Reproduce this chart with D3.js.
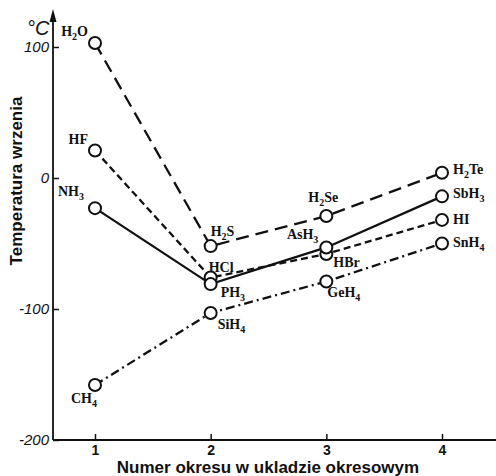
<!DOCTYPE html>
<meta charset="utf-8">
<style>
body { margin: 0; background: #fff; }
.axis text { font-family: "Liberation Sans", Arial, sans-serif; fill: #111; }
.axis line { stroke: #111; stroke-width: 1.5; }
.formula { font-family: "Liberation Serif", "Times New Roman", serif; font-weight: bold; font-size: 14px; fill: #111; }
.title { font-family: "Liberation Sans", Arial, sans-serif; font-weight: bold; font-size: 17px; fill: #111; }
</style>
<body>
<script src="https://d3js.org/d3.v7.min.js"></script>
<script>
// period numbers and tick values
var periods = [1, 2, 3, 4];
var xTicks = [1, 2, 3, 4];
var yTicks = [100, 0, -100, -200];

// boiling points (deg C)
var hydridesVI = ["H2O", "H2S", "H2Se", "H2Te"];
var boilingVI = [103, -52, -29, 4];
var hydridesVII = ["HF", "HCl", "HBr", "HI"];
var boilingVII = [21, -76, -58, -32];
var hydridesV = ["NH3", "PH3", "AsH3", "SbH3"];
var boilingV = [-23, -81, -53, -14];
var hydridesIV = ["CH4", "SiH4", "GeH4", "SnH4"];
var boilingIV = [-158, -103, -79, -50];

var width = 496, height = 476;

// label placement next to each point: [dx, dy, anchor]
var labelPos = {
  H2O: [-7, -7, "end"], HF: [-7, -6, "end"], NH3: [-11, -12, "end"], CH4: [2, 18, "end"],
  H2S: [0, -10, "start"], HCl: [-2, -6, "start"], PH3: [10, 13, "start"], SiH4: [7, 16, "start"],
  H2Se: [-18, -14, "start"], AsH3: [-8, -8, "end"], HBr: [7, 13, "start"], GeH4: [1, 16, "start"],
  H2Te: [11, 1, "start"], SbH3: [11, 2, "start"], HI: [11, 4, "start"], SnH4: [11, 3, "start"]
};

var series = [
  {names: hydridesVI, values: boilingVI, dash: "13,7"},
  {names: hydridesVII, values: boilingVII, dash: "7,4"},
  {names: hydridesV, values: boilingV, dash: null},
  {names: hydridesIV, values: boilingIV, dash: "9,4,2,4"}
];

var x = d3.scaleLinear().domain([1, 4]).range([95, 442]);
var y = d3.scaleLinear().domain([-200, 100]).range([440, 47]);
var x0 = 53;

var svg = d3.select("body").append("svg")
    .attr("width", width)
    .attr("height", height);

// y axis, ticks pointing inward
svg.append("g")
    .attr("class", "axis")
    .attr("transform", "translate(" + x0 + ",0)")
    .call(d3.axisLeft(y).tickValues(yTicks).tickSizeInner(-6).tickSizeOuter(0)
          .tickPadding(4).tickFormat(function(d) { return String(d); }))
  .call(function(g) { g.select(".domain").remove(); })
  .selectAll("text")
    .attr("font-size", 15)
    .attr("font-style", "italic");

// x axis
svg.append("g")
    .attr("class", "axis")
    .attr("transform", "translate(0," + y(-200) + ")")
    .call(d3.axisBottom(x).tickValues(xTicks).tickSizeInner(-6).tickSizeOuter(0)
          .tickPadding(5).tickFormat(d3.format("d")))
  .call(function(g) { g.select(".domain").remove(); })
  .selectAll("text")
    .attr("font-size", 14)
    .attr("font-weight", "bold");

svg.append("line")
    .attr("x1", x0).attr("x2", x0)
    .attr("y1", y(-200)).attr("y2", 18)
    .attr("stroke", "#111").attr("stroke-width", 1.8);
svg.append("path")
    .attr("d", "M" + (x0 - 3.5) + ",22L" + x0 + ",9L" + (x0 + 3.5) + ",22Z")
    .attr("fill", "#111");
svg.append("line")
    .attr("x1", x0).attr("x2", width)
    .attr("y1", y(-200)).attr("y2", y(-200))
    .attr("stroke", "#111").attr("stroke-width", 1.8);

// unit
svg.append("text")
    .attr("x", 27).attr("y", 35)
    .attr("font-family", "Liberation Sans, Arial, sans-serif")
    .attr("font-style", "italic")
    .attr("font-size", 20)
    .attr("fill", "#111")
    .text("°C");

// titles
svg.append("text")
    .attr("class", "title")
    .attr("text-anchor", "middle")
    .attr("transform", "translate(22,181) rotate(-90)")
    .text("Temperatura wrzenia");
svg.append("text")
    .attr("class", "title")
    .attr("text-anchor", "middle")
    .attr("x", 268).attr("y", 473)
    .text("Numer okresu w ukladzie okresowym");

var line = d3.line()
    .x(function(d) { return x(d.p); })
    .y(function(d) { return y(d.v); });

series.forEach(function(s) {
  s.points = periods.map(function(p, i) {
    return {p: p, v: s.values[i], name: s.names[i]};
  });
  svg.append("path")
      .datum(s.points)
      .attr("d", line)
      .attr("fill", "none")
      .attr("stroke", "#111")
      .attr("stroke-width", 2.3)
      .attr("stroke-dasharray", s.dash);
});

series.forEach(function(s) {
  svg.selectAll(null)
      .data(s.points)
    .enter().append("circle")
      .attr("cx", function(d) { return x(d.p); })
      .attr("cy", function(d) { return y(d.v); })
      .attr("r", 6)
      .attr("fill", "#fff")
      .attr("stroke", "#111")
      .attr("stroke-width", 2);

  s.points.forEach(function(d) {
    var pos = labelPos[d.name];
    var t = svg.append("text")
        .attr("class", "formula")
        .attr("x", x(d.p) + pos[0])
        .attr("y", y(d.v) + pos[1])
        .attr("text-anchor", pos[2]);
    addFormula(t, d.name);
  });
});

// chemical formula with subscripted digits
function addFormula(text, s) {
  var sub = false;
  s.match(/[A-Za-z]+|\d+/g).forEach(function(part) {
    var span = text.append("tspan").text(part);
    if (/\d/.test(part)) {
      span.attr("dy", 4).attr("font-size", "10px");
      sub = true;
    } else if (sub) {
      span.attr("dy", -4);
      sub = false;
    }
  });
}
</script>
</body>
